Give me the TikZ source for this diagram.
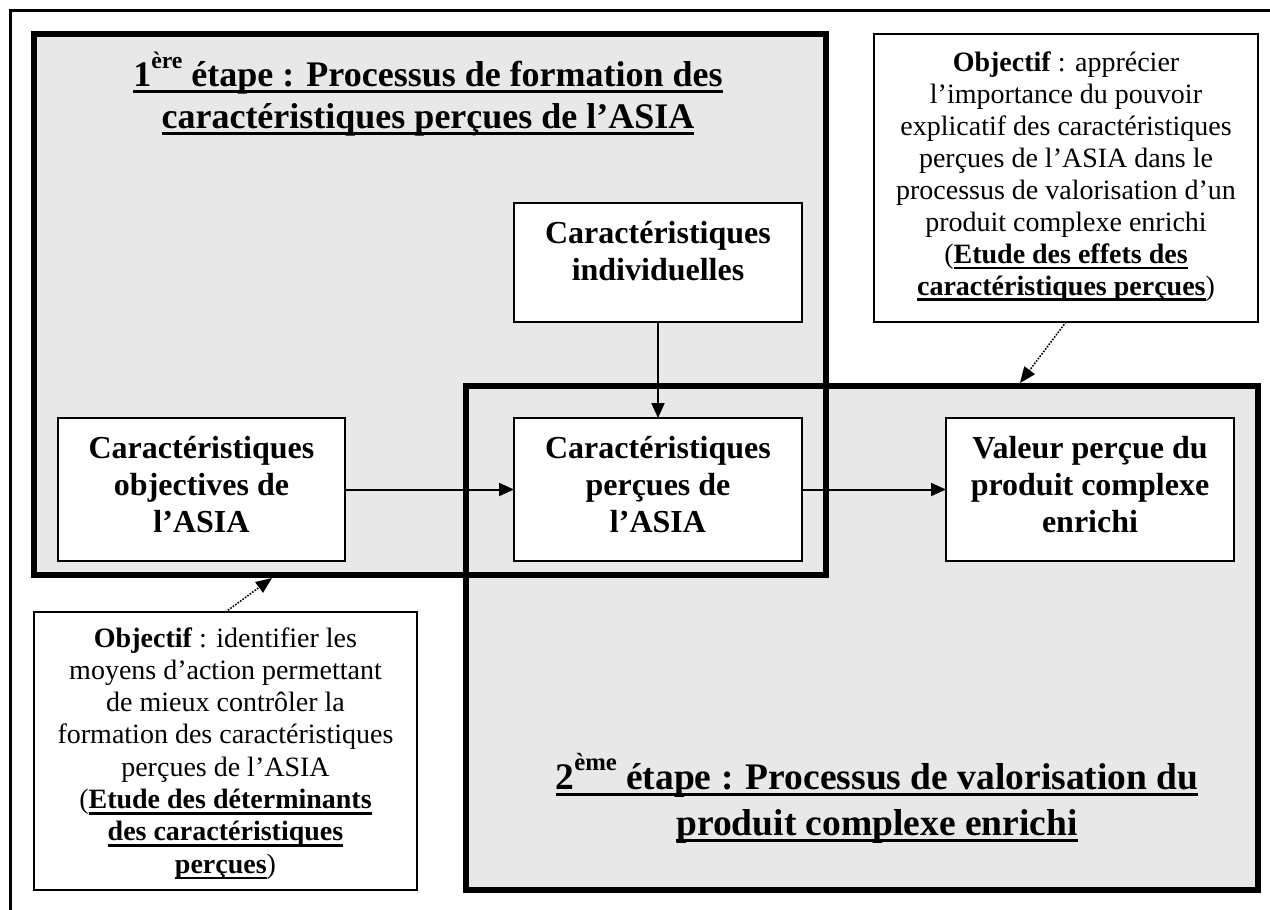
\documentclass[tikz,border=0pt]{standalone}
\usepackage{fontspec}
\setmainfont{Liberation Serif}
\usetikzlibrary{arrows.meta}
\definecolor{zone}{RGB}{232,232,232}
\newcommand\ulx[3]{\begingroup\setbox0\hbox{#3}\rlap{\rule[-#1]{\wd0}{#2}}\box0\endgroup}
\newcommand\ulT[1]{\ulx{7pt}{3.5pt}{#1}}
\newcommand\ulS[1]{\ulx{6pt}{2.5pt}{#1}}
\newcommand\sups[1]{\raisebox{0.5em}{\fontsize{0.66em}{0.66em}\selectfont #1}}
\newcommand\lines[1]{\begin{tabular}[t]{@{}c@{}}#1\end{tabular}}
\begin{document}
\begin{tikzpicture}[x=1pt,y=-1pt,
  zonefill/.style={fill=zone, draw=none, inner sep=0, outer sep=0},
  whitebox/.style={draw, fill=white, line width=2pt, inner sep=0, outer sep=0},
  txt/.style={anchor=base, inner sep=0, outer sep=0},
  boxfont/.style={font=\fontsize{32}{37}\selectfont\bfseries},
  notefont/.style={font=\fontsize{28}{32}\selectfont},
  titlefont/.style={font=\fontsize{36}{42}\selectfont\bfseries},
  arr/.style={-{Triangle[length=15pt,width=13pt]}, line width=2pt},
  darr/.style={-{Triangle[length=16pt,width=13pt]}, line width=1.6pt, dash pattern=on 1.6pt off 1.4pt}]
\useasboundingbox (0,0) rectangle (1270,910);
\fill[white] (0,0) rectangle (1270,910);
% outer frame
\draw[line width=3pt] (10,930) -- (10,10) -- (1290,10);
% stage zones
\node[zonefill, minimum width=792pt, minimum height=540.5pt] (etape1) at (430,304.25) {};
\node[zonefill, minimum width=792pt, minimum height=504pt] (etape2) at (862,638) {};
\draw[line width=6pt] (etape1.north west) rectangle (etape1.south east);
\draw[line width=6pt] (etape2.north west) rectangle (etape2.south east);
% titles
\node[txt, titlefont] (title1) at (428,86) {\lines{\ulT{1\sups{ère} étape : Processus de formation des}\\\ulT{caractéristiques perçues de l’ASIA}}};
\node[txt, font=\fontsize{37.5}{46}\selectfont\bfseries] (title2) at (877,789) {\lines{\ulT{2\sups{ème} étape : Processus de valorisation du}\\\ulT{produit complexe enrichi}}};
% boxes
\node[whitebox, minimum width=288pt, minimum height=119pt] (indiv) at (658,262.5) {};
\node[whitebox, minimum width=287pt, minimum height=143pt] (obj) at (201.5,489.5) {};
\node[whitebox, minimum width=288pt, minimum height=143pt] (perc) at (658,489.5) {};
\node[whitebox, minimum width=288pt, minimum height=143pt] (val) at (1090,489.5) {};
\node[whitebox, minimum width=384pt, minimum height=288pt] (objR) at (1066,178) {};
\node[whitebox, minimum width=383pt, minimum height=278pt] (objL) at (225.5,751) {};
% box texts
\node[txt, boxfont] (indivT) at (658,243) {\lines{Caractéristiques\\individuelles}};
\node[txt, boxfont] (objT) at (201.5,458) {\lines{Caractéristiques\\objectives de\\l’ASIA}};
\node[txt, boxfont] (percT) at (658,458) {\lines{Caractéristiques\\perçues de\\l’ASIA}};
\node[txt, boxfont] (valT) at (1090,458) {\lines{Valeur perçue du\\produit complexe\\enrichi}};
\node[txt, notefont] (objRT) at (1066,71) {\lines{\textbf{Objectif} : apprécier\\l’importance du pouvoir\\explicatif des caractéristiques\\perçues de l’ASIA dans le\\processus de valorisation d’un\\produit complexe enrichi\\(\ulS{\textbf{Etude des effets des}}\\\ulS{\textbf{caractéristiques perçues}})}};
\node[txt, font=\fontsize{28}{32.3}\selectfont] (objLT) at (225.5,647) {\lines{\textbf{Objectif} : identifier les\\moyens d’action permettant\\de mieux contrôler la\\formation des caractéristiques\\perçues de l’ASIA\\(\ulS{\textbf{Etude des déterminants}}\\\ulS{\textbf{des caractéristiques}}\\\ulS{\textbf{perçues}})}};
% connectors
\draw[arr] (obj.east) -- (perc.west);
\draw[arr] (perc.east) -- (val.west);
\draw[arr] (indiv.south) -- (perc.north);
\coordinate (tgt2) at (1020,383);
\coordinate (tgt1) at (272,578);
\draw[darr] (objR.south) -- (tgt2);
\draw[darr] (objL.north) -- (tgt1);
\end{tikzpicture}
\end{document}
